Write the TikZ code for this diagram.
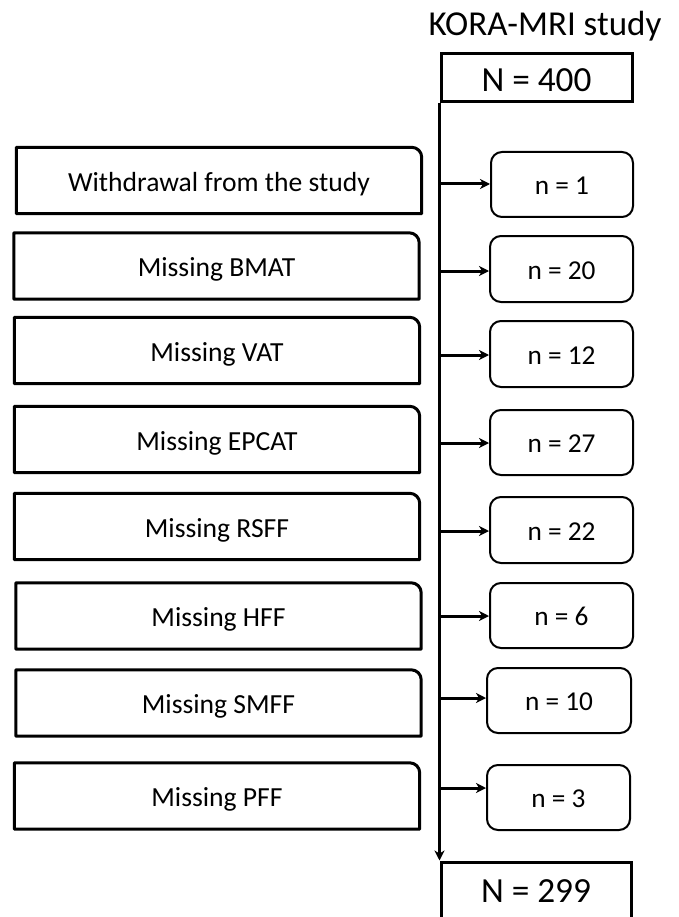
\documentclass[tikz,border=0pt]{standalone}
\usepackage{fontspec}
\setmainfont{Carlito}
\usetikzlibrary{arrows.meta}
\tikzset{
  leftbox/.style={draw=none,minimum width=405pt,minimum height=66pt,inner sep=0pt,text height=21.3pt,text depth=0pt,font=\fontsize{27.6}{32}\selectfont},
  leftframe/.style={line width=3pt,line join=round},
  rightbox/.style={draw,line width=2pt,rounded corners=11pt,minimum width=142pt,minimum height=65pt,inner sep=0pt,text height=20.2pt,text depth=0pt,font=\fontsize{27.3}{32}\selectfont},
  bigbox/.style={draw,line width=3pt,minimum width=191pt,inner sep=0pt,text depth=0pt,font=\fontsize{35.3}{40}\selectfont},
  arr/.style={line width=3pt,-{Stealth[length=10pt,width=10pt,inset=3pt]}},
  vline/.style={line width=3pt}
}
\begin{document}
\begin{tikzpicture}[x=1pt,y=-1pt]
\useasboundingbox (0,0) rectangle (678,917);
\clip (0,0) rectangle (678,917);
\fill[white] (0,0) rectangle (678,917);
% title
\node[anchor=base,font=\fontsize{35}{40}\selectfont,inner sep=0pt] (title) at (545,35.5) {KORA-MRI study};
% top and bottom boxes
\node[bigbox,minimum height=48pt,text height=26.8pt] (top) at (536.5,78) {N = 400};
\node[bigbox,minimum height=58pt,minimum width=190pt,text height=22.6pt] (bot) at (536,891) {N = 299};
% left boxes
\node[leftbox] (lw) at (219,180.5) {Withdrawal from the study};
\node[leftbox] (lbmat) at (216.5,266) {Missing BMAT};
\node[leftbox] (lvat) at (217,350.5) {Missing VAT};
\node[leftbox] (lepcat) at (217,439.5) {Missing EPCAT};
\node[leftbox] (lrsff) at (217,526.5) {Missing RSFF};
\node[leftbox] (lhff) at (218.5,616) {Missing HFF};
\node[leftbox] (lsmff) at (218.5,703) {Missing SMFF};
\node[leftbox] (lpff) at (217,796) {Missing PFF};
\foreach \b in {lw,lbmat,lvat,lepcat,lrsff,lhff,lsmff,lpff}{
  \draw[leftframe] (\b.south west) -- (\b.north west) [rounded corners=10pt] -- (\b.north east) [sharp corners] -- (\b.south east) -- cycle;
}
% right boxes
\node[rightbox] (r1) at (562,184.5) {n = 1};
\node[rightbox,minimum width=143pt,minimum height=66pt] (r20) at (561.5,269) {n = 20};
\node[rightbox,minimum width=143pt,minimum height=66pt] (r12) at (561.5,354) {n = 12};
\node[rightbox,minimum width=143pt] (r27) at (561.5,442.5) {n = 27};
\node[rightbox,minimum width=143pt,minimum height=66pt] (r22) at (561.5,530) {n = 22};
\node[rightbox,minimum width=143pt] (r6) at (561.5,615.5) {n = 6};
\node[rightbox,minimum width=144pt] (r10) at (559,700.5) {n = 10};
\node[rightbox,minimum width=143pt] (r3) at (558.5,797.5) {n = 3};
% main vertical line
\draw[line width=3pt,-{Stealth[length=10pt,width=10pt,inset=3pt]}] (top.south west) -- (bot.north west);
% branch arrows
\coordinate (s1) at (441,184);
\coordinate (s20) at (441,271);
\coordinate (s12) at (441,355);
\coordinate (s27) at (441,443);
\coordinate (s22) at (441,531);
\coordinate (s6) at (438,616);
\coordinate (s10) at (438,698);
\coordinate (s3) at (441,788);
\foreach \k in {1,20,12,27,22,6,10,3}{
  \draw[arr] (s\k) -- (s\k -| r\k.west);
}
\end{tikzpicture}
\end{document}
